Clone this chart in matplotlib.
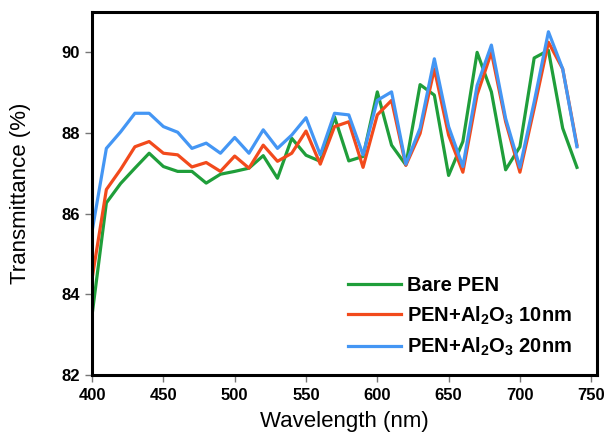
import numpy as np
import matplotlib.pyplot as plt

plt.rcParams['font.family'] = ['Liberation Sans', 'DejaVu Sans']
plt.rcParams['mathtext.fontset'] = 'custom'
plt.rcParams['mathtext.bf'] = 'Liberation Sans:bold'
plt.rcParams['mathtext.rm'] = 'Liberation Sans:bold'
plt.rcParams['mathtext.default'] = 'bf'

wavelength = np.arange(400, 741, 10)

bare_pen = [83.5, 86.27, 86.75, 87.13, 87.5, 87.17, 87.05, 87.05, 86.76, 86.98,
            87.05, 87.13, 87.44, 86.88, 87.87, 87.45, 87.3, 88.4, 87.31, 87.42,
            89.02, 87.7, 87.21, 89.2, 88.94, 86.95, 87.79, 90.0, 89.02, 87.09,
            87.66, 89.86, 90.05, 88.12, 87.15]
pen_10nm = [84.4, 86.6, 87.1, 87.66, 87.79, 87.5, 87.46, 87.16, 87.27, 87.05,
            87.43, 87.13, 87.7, 87.3, 87.5, 88.05, 87.23, 88.16, 88.28, 87.15,
            88.45, 88.81, 87.2, 87.99, 89.59, 87.95, 87.03, 88.95, 90.0, 88.28,
            87.03, 88.61, 90.25, 89.59, 87.7]
pen_20nm = [85.57, 87.62, 88.03, 88.49, 88.49, 88.16, 88.02, 87.62, 87.75, 87.5,
            87.89, 87.5, 88.08, 87.62, 87.95, 88.38, 87.46, 88.49, 88.45, 87.46,
            88.81, 89.02, 87.23, 88.12, 89.84, 88.16, 87.17, 89.18, 90.18, 88.36,
            87.15, 88.77, 90.51, 89.59, 87.66]

fig = plt.figure(figsize=(6.06, 4.44), dpi=100)
ax = fig.add_axes([0.152, 0.155, 0.833, 0.818])

ax.plot(wavelength, bare_pen, color='#1f9e3a', lw=2.3, label='Bare PEN')
ax.plot(wavelength, pen_10nm, color='#f24a1c', lw=2.3, label=r'PEN+Al$_2$O$_3$ 10nm')
ax.plot(wavelength, pen_20nm, color='#4496f4', lw=2.3, label=r'PEN+Al$_2$O$_3$ 20nm')

ax.set_xlim(400, 754)
ax.set_ylim(82, 91)
ax.set_xticks(np.arange(400, 751, 50))
ax.set_yticks(np.arange(82, 91, 2))
for lab in ax.get_xticklabels() + ax.get_yticklabels():
    lab.set_fontweight('bold')
    lab.set_fontsize(12)
ax.tick_params(direction='out', length=5, width=1, color='#777777', pad=4)
for s in ax.spines.values():
    s.set_linewidth(2.2)

ax.set_xlabel('Wavelength (nm)', fontsize=16, labelpad=6)
ax.set_ylabel('Transmittance (%)', fontsize=16, labelpad=22)

leg = ax.legend(loc='lower right', bbox_to_anchor=(0.966, 0.025), borderaxespad=0,
                frameon=False, handlelength=2.6, handletextpad=0.3,
                labelspacing=0.45, prop={'weight': 'bold', 'size': 14.5})

fig.savefig('out.png', dpi=100)
